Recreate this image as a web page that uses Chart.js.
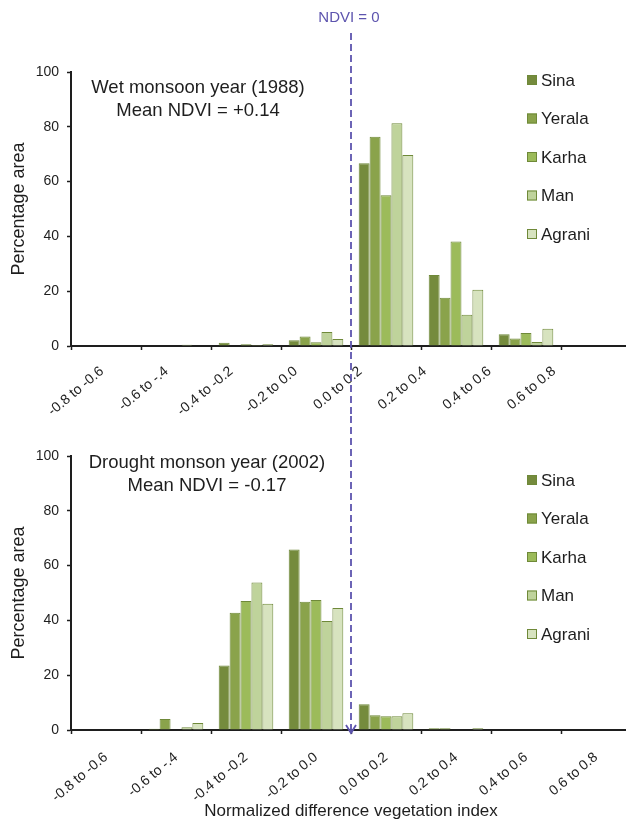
<!DOCTYPE html>
<html>
<head>
<meta charset="utf-8">
<script src="https://cdn.jsdelivr.net/npm/chart.js@4/dist/chart.umd.min.js"></script>
<style>
  html, body { margin: 0; padding: 0; background: #fff; width: 626px; height: 832px; overflow: hidden; }
  canvas { display: block; }
</style>
</head>
<body>
<canvas id="wet" width="634" height="416"></canvas>
<canvas id="dry" width="634" height="416"></canvas>
<script>
const ndviClasses = ['-0.8 to -0.6', '-0.6 to -.4', '-0.4 to -0.2', '-0.2 to 0.0', '0.0 to 0.2', '0.2 to 0.4', '0.4 to 0.6', '0.6 to 0.8'];
const riverNames = ['Sina', 'Yerala', 'Karha', 'Man', 'Agrani'];
const riverFills = ['#758b3d', '#8aa34b', '#9cbb5a', '#bfd39b', '#d7e3bf'];
const yTickValues = [0, 20, 40, 60, 80, 100];

// wet monsoon year 1988 (% area per NDVI class)
const wetSina   = [0, 0,   1.2, 2.1, 66.7, 25.9, 4.3, 0];
const wetYerala = [0, 0,   0,   3.5, 76.4, 17.6, 2.7, 0];
const wetKarha  = [0, 0,   0.6, 1.4, 55.0, 38.1, 4.7, 0];
const wetMan    = [0, 0.5, 0.4, 5.1, 81.3, 11.4, 1.5, 0];
const wetAgrani = [0, 0,   0.6, 2.6, 69.7, 20.5, 6.3, 0];

// drought year 2002
const drySina   = [0, 0.5, 23.5, 65.9, 9.4, 0.6, 0, 0];
const dryYerala = [0, 4.0, 42.8, 46.8, 5.4, 0.6, 0, 0];
const dryKarha  = [0, 0,   47.1, 47.4, 5.0, 0,   0, 0];
const dryMan    = [0, 1.0, 53.8, 39.8, 5.0, 0.2, 0, 0];
const dryAgrani = [0, 2.6, 46.1, 44.5, 6.1, 0.6, 0, 0];

const wetSeries = [wetSina, wetYerala, wetKarha, wetMan, wetAgrani];
const drySeries = [drySina, dryYerala, dryKarha, dryMan, dryAgrani];

const family = "'Liberation Sans', Arial, sans-serif";
const ink = '#1e1e1e';
const edge = '#6f8939';
const ndviBlue = '#5d54ae';

Chart.defaults.font.family = family;
Chart.defaults.color = ink;

// NDVI = 0 line, caption and legend drawn on top of each panel
const overlay = {
  id: 'overlay',
  afterDraw( chart, args, o ) {
    const ctx = chart.ctx;
    const x = chart.scales.x.getPixelForValue( 3.5 );
    ctx.save();

    ctx.strokeStyle = ndviBlue;
    ctx.lineWidth = 1.8;
    ctx.setLineDash( [7, 4] );
    ctx.beginPath();
    ctx.moveTo( x, o.lineFrom );
    ctx.lineTo( x, o.lineTo );
    ctx.stroke();
    ctx.setLineDash( [] );

    if ( o.arrow ) {
      ctx.beginPath();
      ctx.moveTo( x - 5, o.lineTo - 8 );
      ctx.lineTo( x, o.lineTo );
      ctx.lineTo( x + 5, o.lineTo - 8 );
      ctx.stroke();
    }

    if ( o.label ) {
      ctx.fillStyle = ndviBlue;
      ctx.font = '15px ' + family;
      ctx.textAlign = 'center';
      ctx.textBaseline = 'middle';
      ctx.fillText( o.label, x - 2, 18 );
    }

    ctx.fillStyle = ink;
    ctx.font = '18.5px ' + family;
    ctx.textAlign = 'center';
    ctx.textBaseline = 'middle';
    o.caption.forEach( ( t, i ) => ctx.fillText( t, o.captionX, o.captionY + i * 22.5 ) );

    ctx.font = '17px ' + family;
    ctx.textAlign = 'left';
    chart.data.datasets.forEach( ( ds, i ) => {
      const y = o.legendY + i * 38.5;
      ctx.fillStyle = ds.backgroundColor;
      ctx.fillRect( 527, y - 5, 10, 10 );
      ctx.strokeStyle = edge;
      ctx.lineWidth = 1;
      ctx.strokeRect( 527.5, y - 4.5, 9, 9 );
      ctx.fillStyle = ink;
      ctx.fillText( ds.label, 541, y + 1 );
    });

    ctx.restore();
  }
};

const drawPanel = ( canvasId, series, p ) => new Chart( document.getElementById( canvasId ), {
  type: 'bar',
  data: {
    labels: ndviClasses,
    datasets: riverNames.map( ( name, i ) => ({
      label: name,
      data: series[i],
      xAxisID: 'x',
      yAxisID: 'y',
      backgroundColor: riverFills[i],
      borderColor: edge,
      borderWidth: c => c.raw > 0 ? 1 : 0,
      categoryPercentage: 0.78,
      barPercentage: 1
    }))
  },
  options: {
    responsive: false,
    animation: false,
    events: [],
    layout: { padding: { top: p.top, right: 3, left: 0, bottom: 0 } },
    plugins: {
      legend: { display: false },
      tooltip: { enabled: false },
      overlay: p.overlay
    },
    scales: {
      x: {
        type: 'category',
        offset: true,
        grid: { offset: true, drawOnChartArea: false, tickLength: 4, tickWidth: 1.5, tickColor: ink },
        border: { color: ink, width: 2 },
        ticks: { display: false },
        afterFit: s => { s.height = 4; }
      },
      // separate axis that only carries the class labels
      xl: {
        type: 'linear',
        position: 'bottom',
        offset: false,
        min: p.labelMin,
        max: p.labelMax,
        grid: { display: false, offset: false },
        border: { display: false },
        afterBuildTicks: s => { s.ticks = ndviClasses.map( ( c, i ) => ({ value: i }) ); },
        ticks: {
          autoSkip: false, minRotation: 40, maxRotation: 40,
          padding: p.labelPad, font: { size: 14 },
          callback: ( v, i ) => ndviClasses[i]
        },
        title: p.xTitle
          ? { display: true, text: p.xTitle, font: { size: 17 }, padding: { top: 0, bottom: 10 } }
          : { display: false },
        afterFit: s => { s.height = p.bottomH - 4; s.paddingLeft = 0; s.paddingRight = 0; }
      },
      y: {
        min: 0,
        max: 100,
        afterBuildTicks: s => { s.ticks = yTickValues.map( v => ({ value: v }) ); },
        grid: { drawOnChartArea: false, tickLength: 4, tickWidth: 1.5, tickColor: ink },
        border: { color: ink, width: 2 },
        ticks: { padding: 8, font: { size: 14 } },
        title: { display: true, text: 'Percentage area', font: { size: 18 }, padding: { top: 8, bottom: 0 } },
        afterFit: s => { s.width = 71; }
      }
    }
  },
  plugins: [overlay]
});

drawPanel( 'wet', wetSeries, {
  top: 72, bottomH: 70, labelMin: -0.48, labelMax: 8.193, labelPad: 5,
  overlay: {
    lineFrom: 33, lineTo: 416, label: 'NDVI = 0',
    caption: ['Wet monsoon year (1988)', 'Mean NDVI = +0.14'], captionX: 198, captionY: 88,
    legendY: 80
  }
});

drawPanel( 'dry', drySeries, {
  top: 40, bottomH: 102, labelMin: -0.5, labelMax: 7.5, labelPad: 7,
  xTitle: 'Normalized difference vegetation index',
  overlay: {
    lineFrom: 0, lineTo: 317, arrow: true,
    caption: ['Drought monson year (2002)', 'Mean NDVI = -0.17'], captionX: 207, captionY: 47,
    legendY: 64
  }
});
</script>
</body>
</html>
